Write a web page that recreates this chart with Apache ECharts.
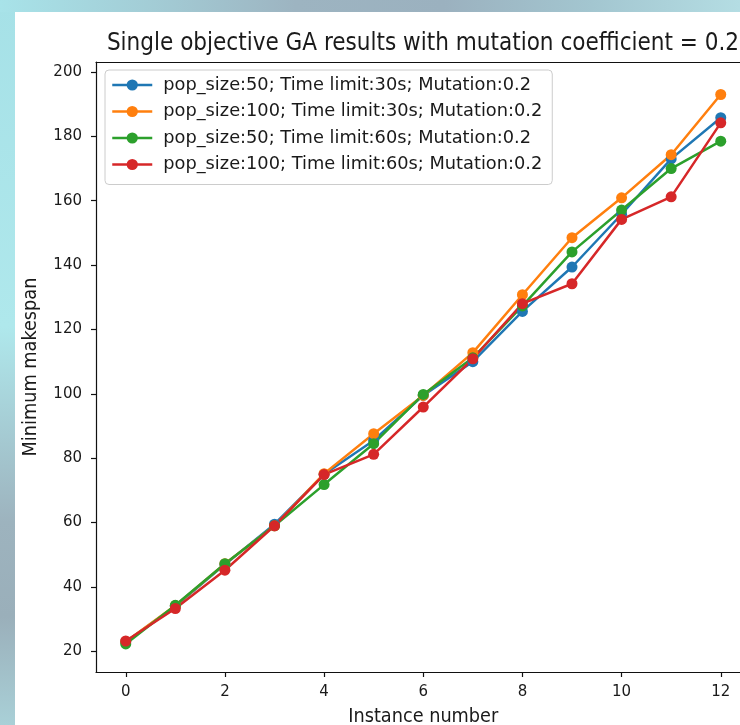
<!DOCTYPE html>
<html>
<head>
<meta charset="utf-8">
<script src="https://cdn.jsdelivr.net/npm/echarts@6/dist/echarts.min.js"></script>
<style>
  html, body { margin: 0; padding: 0; width: 740px; height: 725px; overflow: hidden; }
  body { position: relative; background: linear-gradient(180deg, #a6e1e7 0%, #afe8ec 45%, #9db3be 72%, #9aafba 85%, #a9d0d7 100%); }
  #topstrip { position: absolute; left: 0; top: 0; width: 740px; height: 12px;
    background: linear-gradient(90deg, #a8e3e9 0%, #a3cdd6 20%, #9db4c1 40%, #9bb1bf 60%, #a3c6d0 80%, #b4dde3 100%); }
  #paper { position: absolute; left: 15px; top: 12px; width: 725px; height: 713px; background: #ffffff; }
  #chart { position: absolute; left: 0; top: 0; width: 740px; height: 725px; }
</style>
</head>
<body>
<div id="topstrip"></div>
<div id="paper"></div>
<div id="chart"></div>
<script>
// ---- data ----
const instances = [0, 1, 2, 3, 4, 5, 6, 7, 8, 9, 10, 11, 12];
const seriesNames = [
  'pop_size:50; Time limit:30s; Mutation:0.2',
  'pop_size:100; Time limit:30s; Mutation:0.2',
  'pop_size:50; Time limit:60s; Mutation:0.2',
  'pop_size:100; Time limit:60s; Mutation:0.2'
];
const pop50_t30  = [23.0, 34.0, 47.0, 59.5, 75.0, 85.5, 99.5, 110.0, 125.6, 139.4, 155.8, 173.0, 185.8];
const pop100_t30 = [23.0, 34.2, 47.2, 59.0, 75.2, 87.6, 99.5, 112.8, 130.8, 148.5, 160.9, 174.3, 193.0];
const pop50_t60  = [22.3, 34.3, 47.2, 59.0, 71.8, 84.5, 99.8, 111.2, 127.3, 144.1, 157.1, 170.0, 178.5];
const pop100_t60 = [23.2, 33.3, 45.2, 59.0, 74.9, 81.2, 95.9, 110.9, 128.0, 134.2, 154.2, 161.2, 184.2];
const xTicks = [0, 2, 4, 6, 8, 10, 12];
const yTicks = [20, 40, 60, 80, 100, 120, 140, 160, 180, 200];

const colors = ['#1f77b4', '#ff7f0e', '#2ca02c', '#d62728'];
const valueSets = [pop50_t30, pop100_t30, pop50_t60, pop100_t60];

const chart = echarts.init(document.getElementById('chart'), null, { renderer: 'canvas' });

const series = valueSets.map((vals, k) => ({
  name: seriesNames[k],
  type: 'line',
  xAxisIndex: 0,
  yAxisIndex: 0,
  data: instances.map((x, i) => [x, vals[i]]),
  symbol: 'circle',
  symbolSize: 11,
  showAllSymbol: true,
  itemStyle: { color: colors[k] },
  lineStyle: { color: colors[k], width: 2.5 },
  emphasis: { disabled: true },
  animation: false,
  clip: false
}));

const spine = { color: '#111111', width: 1.2 };

chart.setOption({
  animation: false,
  backgroundColor: 'transparent',
  color: colors,
  title: {
    text: 'Single objective GA results with mutation coefficient = 0.2',
    left: 418,
    top: 27,
    textAlign: 'center',
    textStyle: { fontFamily: 'DejaVu Sans Condensed, DejaVu Sans', fontSize: 24, fontWeight: 'normal', color: '#1a1a1a' }
  },
  legend: {
    orient: 'vertical',
    left: 105,
    top: 70,
    padding: [6, 10, 11, 6],
    itemGap: 8.5,
    itemWidth: 40,
    itemHeight: 14,
    borderColor: '#cccccc',
    borderWidth: 1,
    borderRadius: 4,
    backgroundColor: 'rgba(255,255,255,0.85)',
    lineStyle: { width: 2.5 },
    textStyle: { fontFamily: 'DejaVu Sans', fontSize: 17.8, color: '#1a1a1a', padding: [0, 0, 0, 6] },
    data: seriesNames
  },
  grid: {
    left: 96,
    top: 62,
    width: 654.5,
    height: 610,
    outerBoundsMode: 'none',
    containLabel: false,
    show: false
  },
  xAxis: [{
    type: 'value',
    position: 'bottom',
    min: -0.6,
    max: 12.6,
    name: 'Instance number',
    nameLocation: 'middle',
    nameGap: 35,
    nameTextStyle: { fontFamily: 'DejaVu Sans Condensed, DejaVu Sans', fontSize: 19.7, color: '#1a1a1a' },
    axisLine: { show: true, onZero: false, lineStyle: spine },
    axisTick: { show: true, length: 5, customValues: xTicks, lineStyle: spine },
    axisLabel: { customValues: xTicks, margin: 13, fontFamily: 'DejaVu Sans', fontSize: 15, color: '#1a1a1a' },
    splitLine: { show: false }
  }, {
    type: 'value',
    position: 'top',
    min: -0.6,
    max: 12.6,
    axisLine: { show: true, onZero: false, lineStyle: spine },
    axisTick: { show: false },
    axisLabel: { show: false },
    splitLine: { show: false }
  }],
  yAxis: {
    type: 'value',
    min: 13.57,
    max: 203.1,
    name: 'Minimum makespan',
    nameLocation: 'middle',
    nameGap: 55,
    nameRotate: 90,
    nameTextStyle: { fontFamily: 'DejaVu Sans Condensed, DejaVu Sans', fontSize: 19.7, color: '#1a1a1a' },
    axisLine: { show: true, onZero: false, lineStyle: spine },
    axisTick: { show: true, length: 5, customValues: yTicks, lineStyle: spine },
    axisLabel: { customValues: yTicks, margin: 14, fontFamily: 'DejaVu Sans', fontSize: 15, color: '#1a1a1a' },
    splitLine: { show: false }
  },
  series: series
});
</script>
</body>
</html>
